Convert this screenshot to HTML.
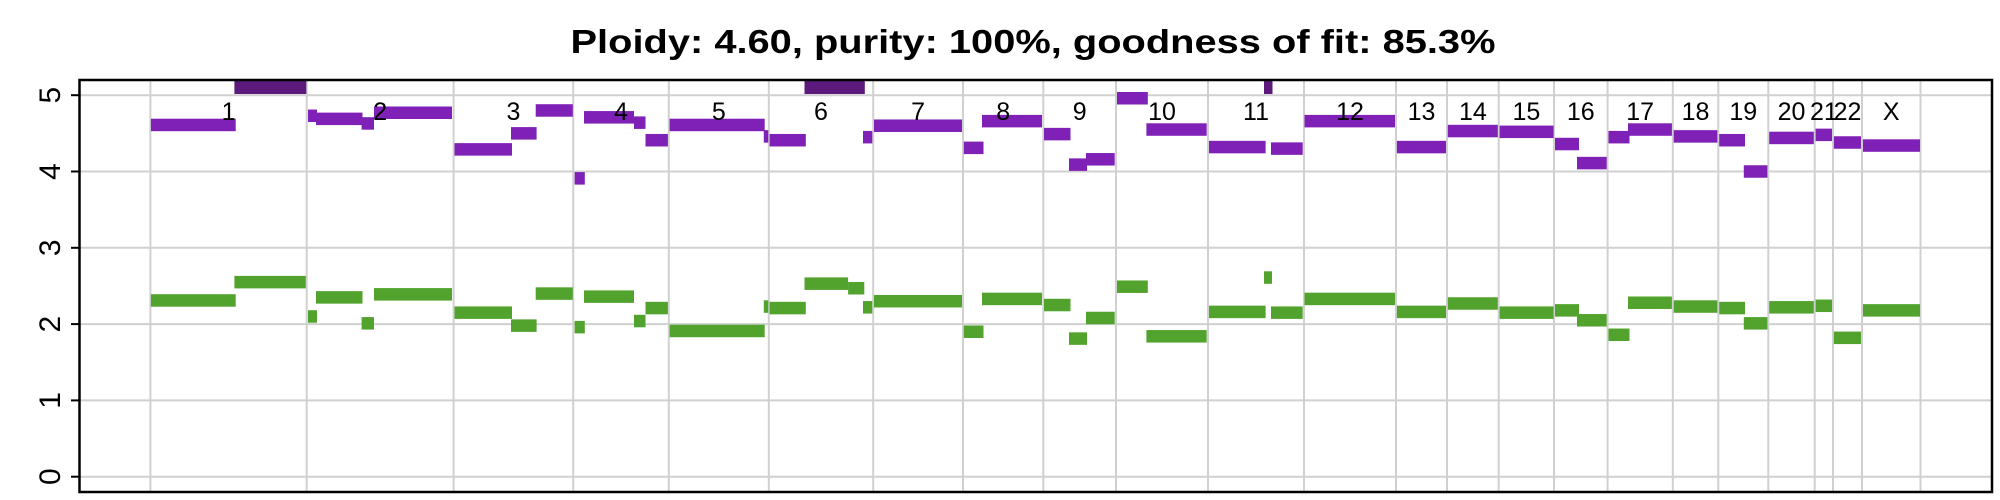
<!DOCTYPE html>
<html><head><meta charset="utf-8"><style>
html,body{margin:0;padding:0;background:#fff;}
svg{display:block;font-family:"Liberation Sans",Arial,sans-serif;}
</style></head><body>
<svg id="chart" width="2000" height="500" viewBox="0 0 2000 500" xmlns="http://www.w3.org/2000/svg">
<text x="1033" y="53" text-anchor="middle" font-size="33" font-weight="bold" textLength="925" lengthAdjust="spacingAndGlyphs">Ploidy: 4.60, purity: 100%, goodness of fit: 85.3%</text>
<g id="grid"></g><g id="segs"></g><g id="labels"></g><g id="axis"></g>
<rect x="79.5" y="80" width="1912.5" height="412" fill="none" stroke="#000" stroke-width="2.5"/>
</svg>
<script>
const chromNames = ["1","2","3","4","5","6","7","8","9","10","11","12","13","14","15","16","17","18","19","20","21","22","X"];
const chromSizes = [156.3,146.9,119.6,95.6,100,104.4,89.8,80.3,72.7,92,96,92,51,51.7,55.3,53.6,65.2,45.5,50,46.4,18.3,29,58.5];
const segStart = [0.5,84,157.6,165.6,211.2,223.6,304.1,360.6,385.3,424.2,433.6,483.6,495.1,519.2,613.4,619.2,654.1,697.7,712.6,723.6,813.4,831.6,893.6,918.6,935.6,966.6,996,1058.6,1113.6,1120.6,1154.1,1246.5,1297.4,1349.2,1404.6,1426.6,1458.1,1477.6,1523.3,1568.8,1593.4,1618.8,1665.2,1683.5,1712.6];
const segEnd = [85.3,155.4,166.6,212.1,223.6,301.6,361.6,386.2,422.4,434.4,483.6,495.1,517.5,614.3,617.9,655.4,697.7,713.9,721.9,811.6,833.1,891.6,920.1,936.6,964.3,997.4,1056.3,1115.2,1121.6,1152.3,1244.6,1295.6,1347.4,1403.2,1428.6,1456.3,1479.1,1521.5,1567,1594.6,1617,1663.4,1681.6,1710.6,1769.6];
const majorCN = [4.61,6,4.73,4.69,4.63,4.77,4.29,4.50,4.80,3.91,4.71,4.64,4.41,4.61,4.46,4.41,6,6,4.45,4.60,4.31,4.66,4.49,4.09,4.16,4.96,4.55,4.32,6,4.30,4.66,4.32,4.53,4.52,4.36,4.11,4.45,4.55,4.46,4.41,4.00,4.44,4.48,4.38,4.34];
const minorCN = [2.31,2.55,2.10,2.35,2.01,2.39,2.15,1.98,2.40,1.96,2.36,2.04,2.21,1.91,2.23,2.21,2.53,2.47,2.22,2.30,1.90,2.33,2.25,1.81,2.08,2.49,1.84,2.16,2.61,2.15,2.33,2.16,2.27,2.15,2.18,2.05,1.86,2.28,2.23,2.21,2.01,2.22,2.24,1.82,2.18];
const yTicks = [0,1,2,3,4,5];

const NS="http://www.w3.org/2000/svg";
const total = chromSizes.reduce((a,b)=>a+b,0);
const X0=150.4, X1=1920.5, Y0=476.7, YPER=76.3, YMAX=5.2, PTOP=80;
const xS = v => X0 + v*(X1-X0)/total;
const yS = v => Y0 - v*YPER;
function mk(tag, attrs, parent){const e=document.createElementNS(NS,tag);for(const k in attrs)e.setAttribute(k,attrs[k]);parent.appendChild(e);return e;}
const grid=document.getElementById('grid'), segs=document.getElementById('segs'), labels=document.getElementById('labels'), axis=document.getElementById('axis');

yTicks.forEach(t=>{
  const l=mk('line',{x1:79.5,x2:1992,y1:yS(t),y2:yS(t),stroke:'#d0d0d0','stroke-width':2},grid);
  
  
  const tk=mk('line',{x1:71,x2:79.5,y1:yS(t),y2:yS(t),stroke:'#000','stroke-width':2},axis);
  
  
  const tx=mk('text',{x:0,y:0,'font-size':30,'text-anchor':'middle',transform:`translate(60,${yS(t)}) rotate(-90)`},axis);
  tx.textContent=t;
  
  
});
let cum=0;
const bounds=[0];
chromSizes.forEach(s=>{cum+=s;bounds.push(cum);});
bounds.forEach(b=>{
  const l=mk('line',{x1:xS(b),x2:xS(b),y1:PTOP,y2:492,stroke:'#d0d0d0','stroke-width':2},grid);
  
  
});
chromNames.forEach((n,i)=>{
  const t=mk('text',{x:(xS(bounds[i])+xS(bounds[i+1]))/2,y:120,'font-size':25,'text-anchor':'middle'},labels);
  t.textContent=n;
  
  
});
const H=12.5;
segStart.forEach((s,i)=>{
  const x=xS(s), w=xS(segEnd[i])-x;
  const mj=majorCN[i];
  let r;
  if(mj>YMAX){
    r=mk('rect',{x:x,y:PTOP,width:w+0.5,height:14,fill:'#5b1a7c'},segs);
  } else {
    r=mk('rect',{x:x,y:yS(mj)-H/2,width:w,height:H,fill:'#7f20b6'},segs);
  }
  
  
  const g=mk('rect',{x:x,y:yS(minorCN[i])-H/2,width:w,height:H,fill:'#52a32e'},segs);
  
  
});
</script>
</body></html>
